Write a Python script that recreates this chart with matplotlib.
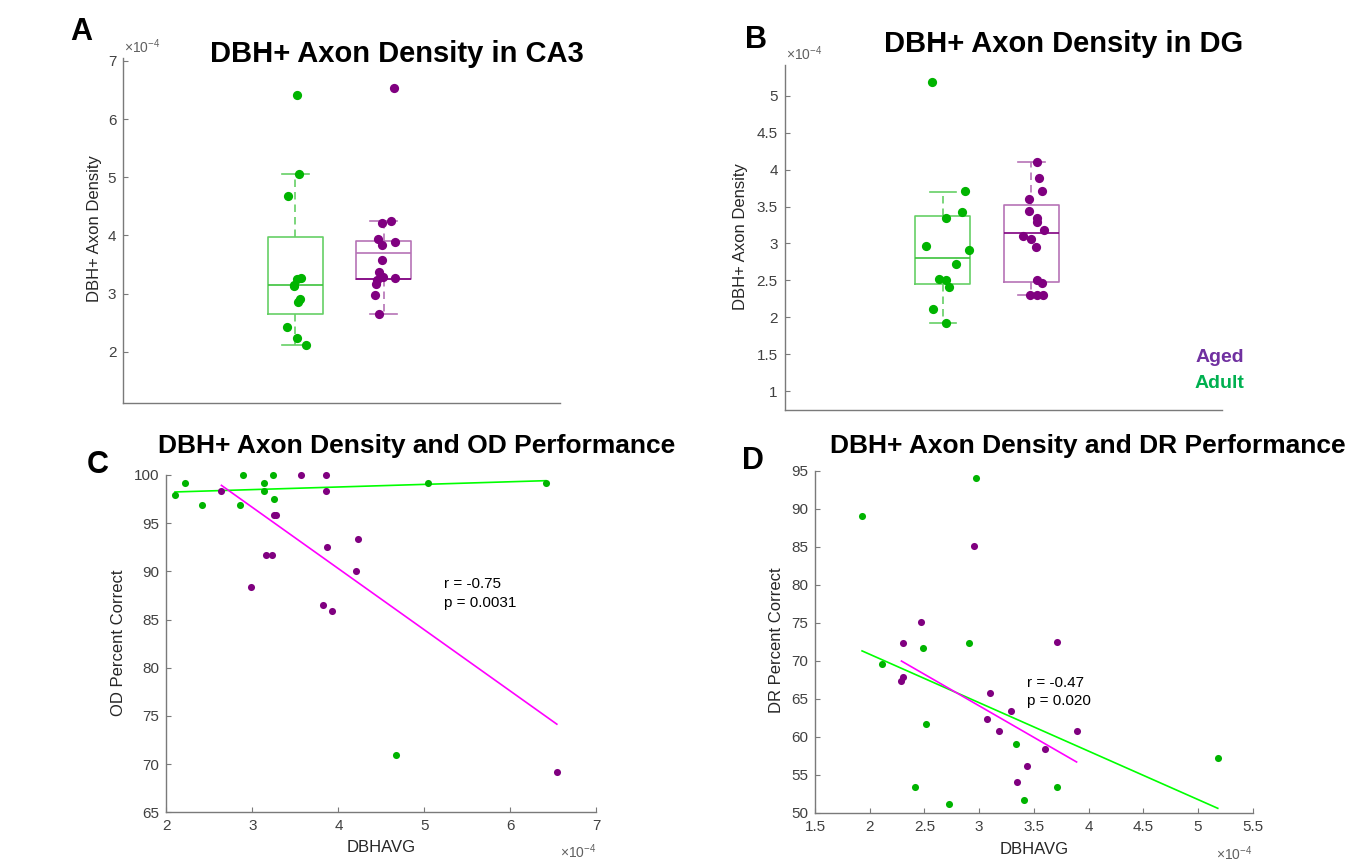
# DBH+ axon density figure: box plots (A, B) and correlation scatters (C, D)
import numpy as np
import matplotlib.pyplot as plt
from matplotlib.ticker import FuncFormatter

plt.rcParams['font.family'] = ['Liberation Sans', 'DejaVu Sans']
plt.rcParams['mathtext.fontset'] = 'custom'
plt.rcParams['mathtext.rm'] = 'Liberation Sans'

E = 1e-4  # densities are shown in units of 1e-4

# ---- Panel A: CA3 density ----
ca3_adult = np.array([2.11, 2.23, 2.42, 2.86, 2.90, 3.13, 3.15, 3.25, 3.27, 4.68, 5.05, 6.42]) * E
ca3_aged = np.array([2.65, 2.98, 3.17, 3.24, 3.27, 3.28, 3.38, 3.57, 3.84, 3.88, 3.94, 4.22, 4.24, 6.54]) * E
ca3_adult_jit = [0.12, 0.02, -0.09, 0.03, 0.05, -0.02, -0.01, 0.02, 0.07, -0.08, 0.04, 0.02]
ca3_aged_jit = [-0.05, -0.10, -0.09, -0.07, 0.13, -0.01, -0.05, -0.02, -0.02, 0.13, -0.06, -0.02, 0.09, 0.12]
# box stats: whisker low, q1, median, q3, whisker high
ca3_adult_box = np.array([2.11, 2.65, 3.14, 3.97, 5.05]) * E
ca3_aged_box = np.array([2.65, 3.25, 3.70, 3.90, 4.24]) * E

# ---- Panel B: DG density ----
dg_adult = np.array([1.93, 2.12, 2.41, 2.50, 2.52, 2.72, 2.91, 2.97, 3.34, 3.42, 3.71, 5.18]) * E
dg_aged = np.array([2.30, 2.30, 2.30, 2.47, 2.51, 2.95, 3.06, 3.10, 3.18, 3.29, 3.35, 3.44, 3.60, 3.71, 3.88, 4.10]) * E
dg_adult_jit = [0.04, -0.11, 0.07, 0.03, -0.04, 0.15, 0.30, -0.19, 0.03, 0.22, 0.25, -0.12]
dg_aged_jit = [-0.02, 0.06, 0.13, 0.12, 0.06, 0.05, 0.0, -0.10, 0.14, 0.06, 0.06, -0.03, -0.03, 0.12, 0.09, 0.06]
dg_adult_box = np.array([1.93, 2.45, 2.81, 3.37, 3.70]) * E
dg_aged_box = np.array([2.30, 2.48, 3.14, 3.52, 4.10]) * E

# ---- Panel C: OD performance vs CA3 density ----
od_adult_x = np.array([2.10, 2.22, 2.41, 2.86, 2.89, 3.13, 3.14, 3.24, 3.25, 4.67, 5.04, 6.41]) * E
od_adult_y = [97.9, 99.2, 96.9, 96.9, 100, 98.3, 99.2, 100, 97.5, 70.9, 99.2, 99.2]
od_aged_x = np.array([2.64, 2.98, 3.16, 3.23, 3.25, 3.28, 3.56, 3.82, 3.86, 3.86, 3.87, 3.92, 4.21, 4.23, 6.54]) * E
od_aged_y = [98.3, 88.4, 91.7, 91.7, 95.9, 95.9, 100, 86.5, 100, 98.3, 92.5, 85.9, 90.0, 93.4, 69.2]
# regression lines: slope (per 1e-4), intercept
od_adult_fit = [0.2715, 97.67]
od_aged_fit = [-6.354, 115.70]

# ---- Panel D: DR performance vs DG density ----
dr_adult_x = np.array([1.93, 2.11, 2.41, 2.49, 2.51, 2.72, 2.91, 2.97, 3.34, 3.41, 3.71, 5.18]) * E
dr_adult_y = [89.0, 69.6, 53.4, 71.7, 61.7, 51.2, 72.3, 94.0, 59.0, 51.7, 53.4, 57.2]
dr_aged_x = np.array([2.29, 2.30, 2.30, 2.47, 2.95, 3.07, 3.10, 3.18, 3.29, 3.35, 3.44, 3.60, 3.71, 3.89]) * E
dr_aged_y = [67.3, 72.3, 67.8, 75.1, 85.1, 62.3, 65.7, 60.7, 63.4, 54.0, 56.2, 58.4, 72.4, 60.7]
dr_adult_fit = [-6.373, 83.59]
dr_aged_fit = [-8.30, 88.96]

# colours
GREEN = '#00b400'
PURPLE = '#800080'
GREEN_BOX = '#66d066'
GREEN_MED = '#3cc23c'
PURPLE_BOX = '#b673b6'
SPINE = '#7a7a7a'
TICKTXT = '#404040'

W, H = 1359, 861
fig = plt.figure(figsize=(W / 100, H / 100), dpi=100)


def px_axes(l, t, r, b):
    return fig.add_axes([l / W, 1 - b / H, (r - l) / W, (b - t) / H])


def ftext(x, y, s, **kw):
    return fig.text(x / W, 1 - y / H, s, **kw)


fmt = FuncFormatter(lambda v, p: f'{v / E:g}')


def style(ax):
    for s in ['top', 'right']:
        ax.spines[s].set_visible(False)
    for s in ['left', 'bottom']:
        ax.spines[s].set_color(SPINE)
        ax.spines[s].set_linewidth(1.0)
    ax.tick_params(direction='in', length=3.5, width=0.8, color=SPINE,
                   labelsize=11, labelcolor=TICKTXT, pad=5)


def draw_box(ax, pos, st, box_col, med_col):
    stats = [dict(whislo=st[0], q1=st[1], med=st[2], q3=st[3], whishi=st[4], fliers=[])]
    ax.bxp(stats, positions=[pos], widths=0.62, capwidths=0.3, showfliers=False,
           manage_ticks=False,
           boxprops=dict(color=box_col, lw=1.2),
           whiskerprops=dict(color=box_col, lw=1.2, ls=(0, (4.5, 3))),
           capprops=dict(color=box_col, lw=1.2),
           medianprops=dict(color=med_col, lw=1.2))


def dots(ax, x, y, s, color):
    ax.scatter(x, y, s=s, color=color, zorder=5, linewidths=0, clip_on=False)


# ---------------- A ----------------
axA = px_axes(123.2, 58.3, 560, 402.7)
style(axA)
draw_box(axA, 1, ca3_adult_box, GREEN_BOX, GREEN_MED)
draw_box(axA, 2, ca3_aged_box, PURPLE_BOX, PURPLE_BOX)
axA.hlines(ca3_aged_box[1], 2 - 0.31, 2 + 0.31, color=PURPLE, lw=1.2)
dots(axA, 1 + np.array(ca3_adult_jit), ca3_adult, 44, GREEN)
dots(axA, 2 + np.array(ca3_aged_jit), ca3_aged, 44, PURPLE)
axA.set_xlim(-0.95, 4.0)
axA.set_ylim(1.124 * E, 7.046 * E)
axA.set_xticks([])
axA.set_yticks(np.arange(2, 8) * E)
axA.yaxis.set_major_formatter(fmt)

# ---------------- B ----------------
axB = px_axes(784.6, 65, 1222.4, 410)
style(axB)
draw_box(axB, 1, dg_adult_box, GREEN_BOX, GREEN_MED)
draw_box(axB, 2, dg_aged_box, PURPLE_BOX, PURPLE)
dots(axB, 1 + np.array(dg_adult_jit), dg_adult, 44, GREEN)
dots(axB, 2 + np.array(dg_aged_jit), dg_aged, 44, PURPLE)
axB.set_xlim(-0.79, 4.16)
axB.set_ylim(0.747 * E, 5.415 * E)
axB.set_xticks([])
axB.set_yticks(np.arange(1, 5.01, 0.5) * E)
axB.yaxis.set_major_formatter(fmt)


def fit_line(ax, x, fit, color):
    xs = np.array([x.min(), x.max()])
    ax.plot(xs, fit[0] * xs / E + fit[1], color=color, lw=1.2, zorder=3)


# ---------------- C ----------------
axC = px_axes(166.4, 475, 596.4, 812.3)
style(axC)
dots(axC, od_adult_x, od_adult_y, 26, GREEN)
dots(axC, od_aged_x, od_aged_y, 26, PURPLE)
fit_line(axC, np.delete(od_adult_x, 9), od_adult_fit, '#00ff00')
fit_line(axC, od_aged_x, od_aged_fit, '#ff00ff')
axC.set_xlim(2 * E, 7 * E)
axC.set_ylim(65, 100)
axC.set_xticks(np.arange(2, 8) * E)
axC.xaxis.set_major_formatter(fmt)
axC.set_yticks(np.arange(65, 101, 5))

# ---------------- D ----------------
axD = px_axes(815, 470.7, 1252.8, 812.7)
style(axD)
dots(axD, dr_adult_x, dr_adult_y, 26, GREEN)
dots(axD, dr_aged_x, dr_aged_y, 26, PURPLE)
fit_line(axD, dr_adult_x, dr_adult_fit, '#00ff00')
fit_line(axD, dr_aged_x, dr_aged_fit, '#ff00ff')
axD.set_xlim(1.5 * E, 5.5 * E)
axD.set_ylim(50, 95)
axD.set_xticks(np.arange(1.5, 5.51, 0.5) * E)
axD.xaxis.set_major_formatter(fmt)
axD.set_yticks(np.arange(50, 96, 5))

# ---------------- texts ----------------
bold = dict(fontweight='bold', color='black')
ftext(70.7, 40, 'A', fontsize=22, ha='left', va='baseline', **bold)
ftext(745, 48, 'B', fontsize=22, ha='left', va='baseline', **bold)
ftext(87, 473, 'C', fontsize=22, ha='left', va='baseline', **bold)
ftext(741.5, 469, 'D', fontsize=22, ha='left', va='baseline', **bold)

ftext(397, 62, 'DBH+ Axon Density in CA3', fontsize=21, ha='center', va='baseline', **bold)
ftext(1063.5, 52, 'DBH+ Axon Density in DG', fontsize=21, ha='center', va='baseline', **bold)
ftext(417, 453, 'DBH+ Axon Density and OD Performance', fontsize=19, ha='center', va='baseline', **bold)
ftext(1088, 453, 'DBH+ Axon Density and DR Performance', fontsize=19, ha='center', va='baseline', **bold)

lab = dict(fontsize=12, color='#262626', ha='center', va='center')
ftext(94, 229, 'DBH+ Axon Density', rotation=90, **lab)
ftext(741, 236.7, 'DBH+ Axon Density', rotation=90, **lab)
ftext(119, 643, 'OD Percent Correct', rotation=90, **lab)
ftext(776.5, 640, 'DR Percent Correct', rotation=90, **lab)
ftext(381, 848, 'DBHAVG', **lab)
ftext(1034, 850, 'DBHAVG', **lab)

off = r'$\times\mathregular{10^{-4}}$'
offkw = dict(fontsize=10, color='#606060', va='baseline')
ftext(124.3, 53, off, ha='left', **offkw)
ftext(786, 60, off, ha='left', **offkw)
ftext(596.4, 858, off, ha='right', **offkw)
ftext(1252.8, 860, off, ha='right', **offkw)

stat = dict(fontsize=11, color='black', ha='left', va='baseline')
ftext(444, 588, 'r = -0.75', **stat)
ftext(444, 607, 'p = 0.0031', **stat)
ftext(1027, 687, 'r = -0.47', **stat)
ftext(1027, 705, 'p = 0.020', **stat)

ftext(1244, 362, 'Aged', fontsize=14, fontweight='bold', color='#7030a0', ha='right', va='baseline')
ftext(1244, 388, 'Adult', fontsize=14, fontweight='bold', color='#00b050', ha='right', va='baseline')

fig.savefig('out.png', dpi=100)
